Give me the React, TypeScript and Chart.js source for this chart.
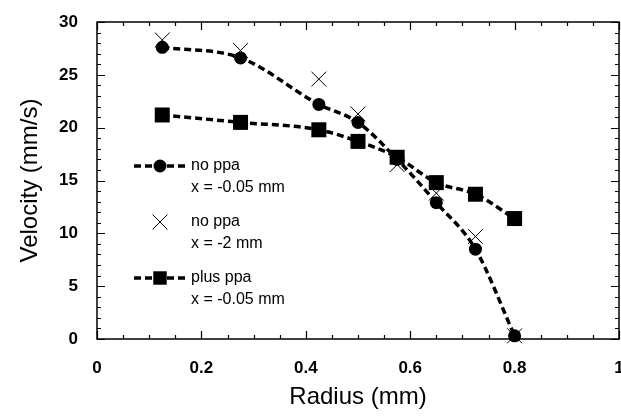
import React, { useEffect, useRef } from 'react';
import { Chart, registerables } from 'chart.js';

Chart.register(...registerables);

// ---- data ----
const radius = [0.125, 0.275, 0.425, 0.5, 0.575, 0.65, 0.725, 0.8];
const noPpaNear = [27.6, 26.6, 22.2, 20.5, 17.0, 12.9, 8.5, 0.3];
const noPpaFar = [28.3, 27.3, 24.6, 21.3, 16.5, 13.8, 9.7, 0.3];
const plusPpa = [21.2, 20.5, 19.8, 18.7, 17.2, 14.8, 13.7, 11.4];

const legendLabels = [
  ['no ppa', 'x = -0.05 mm'],
  ['no ppa', 'x = -2 mm'],
  ['plus ppa', 'x = -0.05 mm'],
];
const xTitle = 'Radius (mm)';
const yTitle = 'Velocity (mm/s)';
const xMin = 0, xMax = 1, xStep = 0.2, xMinor = 0.05;
const yMin = 0, yMax = 30, yStep = 5, yMinor = 1;

const FONT = '"Liberation Sans", Arial, Helvetica, sans-serif';

function fmt(v: number) {
  return String(Number(v.toFixed(3)));
}

function drawMarker(ctx: CanvasRenderingContext2D, style: string, x: number, y: number, r: number) {
  ctx.beginPath();
  if (style === 'circle') {
    ctx.arc(x, y, r, 0, Math.PI * 2);
    ctx.fill();
  } else if (style === 'rect') {
    const s = r * Math.SQRT1_2;
    ctx.fillRect(x - s, y - s, 2 * s, 2 * s);
  } else if (style === 'crossRot') {
    const s = r * Math.SQRT1_2;
    ctx.moveTo(x - s, y - s);
    ctx.lineTo(x + s, y + s);
    ctx.moveTo(x + s, y - s);
    ctx.lineTo(x - s, y + s);
    ctx.stroke();
  }
}

const framePlugin = {
  id: 'frameTicks',
  afterDatasetsDraw(chart: any) {
    const { ctx, chartArea: a, scales } = chart;
    const xs = scales.x, ys = scales.y;
    ctx.save();
    ctx.strokeStyle = '#000';
    ctx.lineWidth = 1.5;
    ctx.strokeRect(a.left, a.top, a.right - a.left, a.bottom - a.top);
    ctx.lineWidth = 1.2;
    ctx.beginPath();
    const ny = Math.round((yMax - yMin) / yMinor);
    const perY = Math.round(yStep / yMinor);
    for (let i = 0; i <= ny; i++) {
      const v = yMin + i * yMinor;
      const len = i % perY === 0 ? 8 : 4;
      const py = Math.round(ys.getPixelForValue(v)) + 0.5;
      ctx.moveTo(a.left, py); ctx.lineTo(a.left + len, py);
      ctx.moveTo(a.right, py); ctx.lineTo(a.right - len, py);
    }
    const nx = Math.round((xMax - xMin) / xMinor);
    const perX = Math.round(xStep / xMinor);
    for (let i = 0; i <= nx; i++) {
      const v = xMin + i * xMinor;
      const len = i % perX === 0 ? 8 : 4;
      const px = Math.round(xs.getPixelForValue(v)) + 0.5;
      ctx.moveTo(px, a.bottom); ctx.lineTo(px, a.bottom - len);
      ctx.moveTo(px, a.top); ctx.lineTo(px, a.top + len);
    }
    ctx.stroke();
    // x tick labels
    ctx.fillStyle = '#000';
    ctx.font = `bold 17px ${FONT}`;
    ctx.textAlign = 'center';
    ctx.textBaseline = 'middle';
    const nMaj = Math.round((xMax - xMin) / xStep);
    for (let i = 0; i <= nMaj; i++) {
      const v = xMin + i * xStep;
      ctx.fillText(fmt(v), xs.getPixelForValue(v), a.bottom + 29);
    }
    ctx.restore();
  },
  afterDraw(chart: any) {
    const { ctx } = chart;
    const sets = chart.data.datasets;
    const x0 = 134, x1 = 188, xm = 160, tx = 191;
    const ys = [166, 222, 278];
    ctx.save();
    sets.forEach((ds: any, i: number) => {
      const y = ys[i];
      ctx.fillStyle = '#000';
      ctx.strokeStyle = '#000';
      if (ds.showLine !== false) {
        ctx.setLineDash(ds.borderDash || []);
        ctx.lineWidth = ds.borderWidth;
        ctx.beginPath();
        ctx.moveTo(x0, y);
        ctx.lineTo(x1, y);
        ctx.stroke();
        ctx.setLineDash([]);
      }
      ctx.lineWidth = ds.pointBorderWidth || 1;
      drawMarker(ctx, ds.pointStyle, xm, y, ds.legendRadius);
      ctx.font = `16px ${FONT}`;
      ctx.textBaseline = 'middle';
      ctx.textAlign = 'left';
      ctx.fillText(legendLabels[i][0], tx, y);
      ctx.fillText(legendLabels[i][1], tx, y + 22);
    });
    ctx.restore();
  },
};

export default function App() {
  const ref = useRef<HTMLCanvasElement | null>(null);
  useEffect(() => {
    if (!ref.current) return;
    const dash = [7, 4];
    const chart = new Chart(ref.current, {
      type: 'line',
      data: {
        datasets: [
          {
            label: 'no ppa x = -0.05 mm',
            data: radius.map((r, i) => ({ x: r, y: noPpaNear[i] })),
            borderColor: '#000',
            backgroundColor: '#000',
            borderWidth: 3.5,
            borderDash: dash,
            cubicInterpolationMode: 'monotone',
            pointStyle: 'circle',
            pointRadius: 6.5,
            pointBorderWidth: 0,
            clip: false,
            order: 1,
            legendRadius: 6.5,
          } as any,
          {
            label: 'no ppa x = -2 mm',
            data: radius.map((r, i) => ({ x: r, y: noPpaFar[i] })),
            borderColor: '#000',
            backgroundColor: '#000',
            showLine: false,
            pointStyle: 'crossRot',
            pointRadius: 10.5,
            pointBorderWidth: 1,
            clip: false,
            order: 3,
            legendRadius: 10.5,
          } as any,
          {
            label: 'plus ppa x = -0.05 mm',
            data: radius.map((r, i) => ({ x: r, y: plusPpa[i] })),
            borderColor: '#000',
            backgroundColor: '#000',
            borderWidth: 3.5,
            borderDash: dash,
            cubicInterpolationMode: 'monotone',
            pointStyle: 'rect',
            pointRadius: 10.6,
            pointBorderWidth: 0,
            clip: false,
            order: 2,
            legendRadius: 9.5,
          } as any,
        ],
      },
      options: {
        animation: false,
        responsive: false,
        devicePixelRatio: 1,
        layout: { autoPadding: false, padding: { top: 22, right: 2, left: 0, bottom: 0 } },
        plugins: { legend: { display: false }, tooltip: { enabled: false } },
        scales: {
          x: {
            type: 'linear',
            min: xMin,
            max: xMax,
            grid: { display: false, drawTicks: false },
            border: { display: false },
            ticks: { display: false, stepSize: xStep },
            title: {
              display: true,
              text: xTitle,
              color: '#000',
              font: { family: FONT, size: 24 },
              padding: { top: 0, bottom: 6 },
            },
            afterFit: (s: any) => {
              s.height = 79;
              s.paddingLeft = 0;
              s.paddingRight = 0;
            },
          },
          y: {
            type: 'linear',
            min: yMin,
            max: yMax,
            grid: { display: false, drawTicks: false },
            border: { display: false },
            ticks: {
              stepSize: yStep,
              padding: 19,
              color: '#000',
              font: { family: FONT, size: 17, weight: 'bold' },
            },
            title: {
              display: true,
              text: yTitle,
              color: '#000',
              font: { family: FONT, size: 24 },
              padding: { top: 16, bottom: 0 },
            },
            afterFit: (s: any) => {
              s.width = 97;
              s.paddingTop = 0;
              s.paddingBottom = 0;
            },
          },
        },
      },
      plugins: [framePlugin],
    } as any);
    return () => chart.destroy();
  }, []);
  return (
    <div style={{ position: 'fixed', left: 0, top: 0, width: 621, height: 418, background: '#fff' }}>
      <canvas ref={ref} width={621} height={418} />
    </div>
  );
}
